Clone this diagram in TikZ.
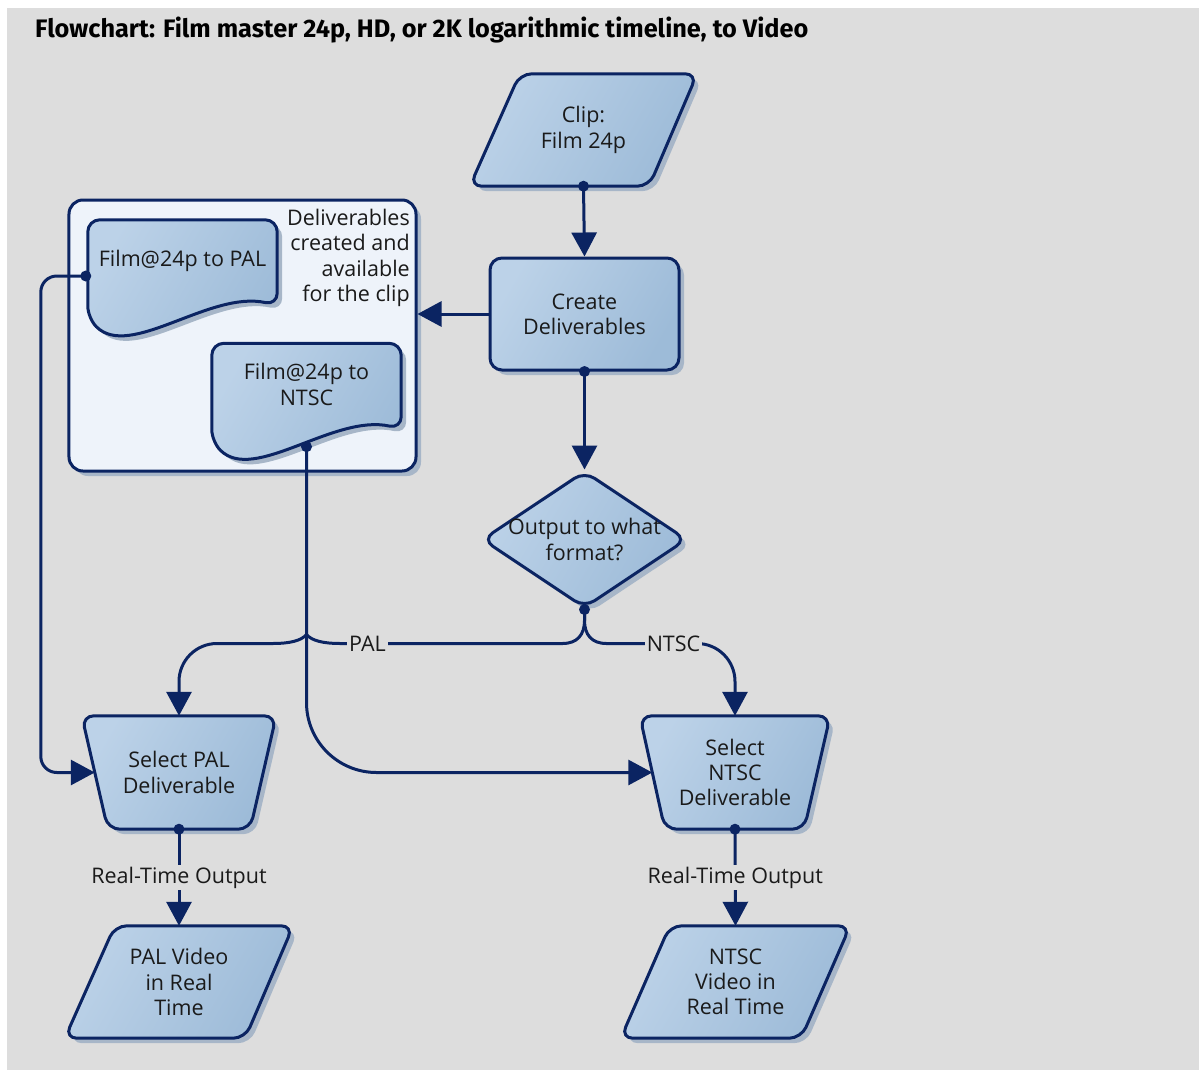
\documentclass[tikz,border=0pt]{standalone}
\usepackage{fontspec}
\setmainfont{Open Sans}
\newfontfamily\titlefont{Fira Sans}
\usetikzlibrary{shapes.geometric,shadows,arrows.meta,calc}

\definecolor{bgcol}{HTML}{DDDDDD}
\definecolor{navy}{HTML}{0B2462}
\definecolor{gradA}{HTML}{BCD2E8}
\definecolor{gradB}{HTML}{9DBBD8}
\definecolor{shadowcol}{HTML}{A7B6C8}
\definecolor{panel}{HTML}{EEF3FA}
\definecolor{ink}{HTML}{1A1A1A}

\pgfdeclarelayer{back}
\pgfsetlayers{back,main}

\tikzset{
  basefont/.style={font=\fontsize{21.5bp}{25.3bp}\selectfont},
  softshadow/.style={drop shadow={shadow xshift=5bp,shadow yshift=-5bp,fill=shadowcol,opacity=1}},
  shapebox/.style={draw=navy, line width=3bp, left color=gradA, right color=gradB,
    shading angle=60, rounded corners=12bp, softshadow, align=center, text=ink,
    inner sep=0pt, basefont},
  plain/.style={basefont, text=ink, align=center, inner sep=0pt},
  framebox/.style={plain, minimum width=#1, minimum height=112bp},
  conn/.style={draw=navy, line width=3bp, -{Triangle[length=24bp,width=25bp]}},
  lab/.style={fill=bgcol, inner sep=2bp, text=ink, basefont},
  docfill/.style={draw=navy, line width=3bp, left color=gradA, right color=gradB,
    shading angle=60, rounded corners=12bp},
}

% four-sided outline round the box of node #1; #2..#5 shift the corners
% (top left, top right, bottom right, bottom left) sideways
\newcommand\slantbox[5]{%
  \begin{pgfonlayer}{back}
    \begin{scope}[transform canvas={shift={(5bp,-5bp)}}]
      \fill[shadowcol, rounded corners=12bp]
        ($(#1.north west)+(#2,0)$) -- ($(#1.north east)+(#3,0)$)
        -- ($(#1.south east)+(#4,0)$) -- ($(#1.south west)+(#5,0)$) -- cycle;
    \end{scope}
    \draw[docfill]
      ($(#1.north west)+(#2,0)$) -- ($(#1.north east)+(#3,0)$)
      -- ($(#1.south east)+(#4,0)$) -- ($(#1.south west)+(#5,0)$) -- cycle;
  \end{pgfonlayer}}

% document outline with a wavy lower edge below the box of node #1
\newcommand\wavedoc[1]{%
  \begin{pgfonlayer}{back}
    \begin{scope}[transform canvas={shift={(5bp,-5bp)}}]
      \fill[shadowcol, rounded corners=12bp] (#1.north west) -- (#1.north east)
        -- ($(#1.south east)+(0,3)$)
        .. controls ($(#1.south west)+(122,-12)$) and ($(#1.south west)+(42,58)$)
        .. ($(#1.south west)+(0,16)$) -- cycle;
    \end{scope}
    \draw[docfill] (#1.north west) -- (#1.north east)
      -- ($(#1.south east)+(0,3)$)
      .. controls ($(#1.south west)+(122,-12)$) and ($(#1.south west)+(42,58)$)
      .. ($(#1.south west)+(0,16)$) -- cycle;
  \end{pgfonlayer}}

\begin{document}
\begin{tikzpicture}[x=1bp, y=-1bp]
  \useasboundingbox (0,0) rectangle (1199,1070);
  \begin{pgfonlayer}{back}
    \fill[bgcol] (7,8) rectangle (1199,1070);
    % panel holding the deliverables
    \node[draw=navy, line width=3bp, fill=panel, rounded corners=14bp, softshadow,
          minimum width=347bp, minimum height=271bp, inner sep=0pt] (deliv) at (242.5,335.5) {};
  \end{pgfonlayer}

  \node[anchor=base west, inner sep=0pt, text=black,
        font=\titlefont\bfseries\fontsize{25.3bp}{29bp}\selectfont] (title) at (35,37)
    {Flowchart: Film master 24p, HD, or 2K logarithmic timeline, to Video};

  \node[plain, align=right, anchor=north east] (delivtext) at (410,209)
    {Deliverables\\created and\\available\\for the clip};

  \node[plain, minimum width=189bp, minimum height=82bp] (paldoc) at (182.5,261) {Film@24p to PAL};
  \wavedoc{paldoc}
  \node[plain, minimum width=189bp, minimum height=82bp] (ntscdoc) at (306.5,384.5) {Film@24p to\\NTSC};
  \wavedoc{ntscdoc}

  % main flow
  \node[framebox=227bp] (clip) at (583.5,130) {Clip:\\Film 24p};
  \slantbox{clip}{50}{0}{-48}{0}
  \node[shapebox, rectangle, minimum width=189bp, minimum height=112bp] (create) at (584.5,314)
    {Create\\Deliverables};
  \node[shapebox, diamond, minimum width=205bp, minimum height=137bp] (decide) at (584.5,539.5) {};
  \node[plain] (decidetext) at (decide.center) {Output to what\\format?};
  \node[framebox=194bp, minimum height=113bp] (selpal) at (179,772.5) {Select PAL\\Deliverable};
  \slantbox{selpal}{0}{0}{-26}{26}
  \node[framebox=190bp, minimum height=113bp] (selntsc) at (735,772.5) {Select\\NTSC\\Deliverable};
  \slantbox{selntsc}{0}{0}{-26}{25}
  \node[framebox=228bp] (palvid) at (179,982) {PAL Video\\in Real\\Time};
  \slantbox{palvid}{50}{0}{-48}{0}
  \node[framebox=229bp] (ntscvid) at (735.5,982) {NTSC\\Video in\\Real Time};
  \slantbox{ntscvid}{49}{0}{-49}{0}

  % connectors
  \fill[navy] (clip.south) circle (5.5bp);
  \draw[conn] (clip.south) -- (create.north);

  \fill[navy] (create.south) circle (5.5bp);
  \draw[conn] (create.south) -- (decide.north);

  \draw[conn] (create.west) -- (create.west -| deliv.east);

  \coordinate (palport) at ($(paldoc.west)+(-2,15)$);
  \fill[navy] (palport) circle (5.5bp);
  \draw[conn, rounded corners=16bp] (palport) -- ++(-45,0) |- ($(selpal.west)+(13,0)$);

  \coordinate (ntscport) at ($(ntscdoc.south)+(0,21)$);
  \fill[navy] (ntscport) circle (5.5bp);
  \draw[conn, rounded corners=70bp] (ntscport) |- ($(selntsc.west)+(12.5,0)$);

  \coordinate (fork) at ($(decide.south)+(0,34)$);
  \coordinate (hop) at (ntscport |- fork);
  \fill[navy] (decide.south) circle (5.5bp);
  \draw[conn] (decide.south) -- ++(0,11)
    .. controls +(0,14) and +(15,0) .. ($(fork)+(-22,0)$)
    -- ($(hop)+(34,0)$)
    .. controls +(-18,0) and +(5,6) .. ($(hop)+(0,-9)$)
    .. controls +(-5,6) and +(18,0) .. ($(hop)+(-34,0)$)
    [rounded corners=38bp] -| (selpal.north);
  \draw[conn] (decide.south) -- ++(0,11)
    .. controls +(0,14) and +(-15,0) .. ($(fork)+(22,0)$)
    [rounded corners=38bp] -| (selntsc.north);
  \node[lab] (pallab) at ($(hop)+(61,0)$) {PAL};
  \node[lab] (ntsclab) at ($(fork)+(89,0)$) {NTSC};

  \fill[navy] (selpal.south) circle (5.5bp);
  \draw[conn] (selpal.south) -- (palvid.north) node[lab, midway] (rtpal) {Real-Time Output};
  \fill[navy] (selntsc.south) circle (5.5bp);
  \draw[conn] (selntsc.south) -- (ntscvid.north) node[lab, midway] (rtntsc) {Real-Time Output};
\end{tikzpicture}
\end{document}
